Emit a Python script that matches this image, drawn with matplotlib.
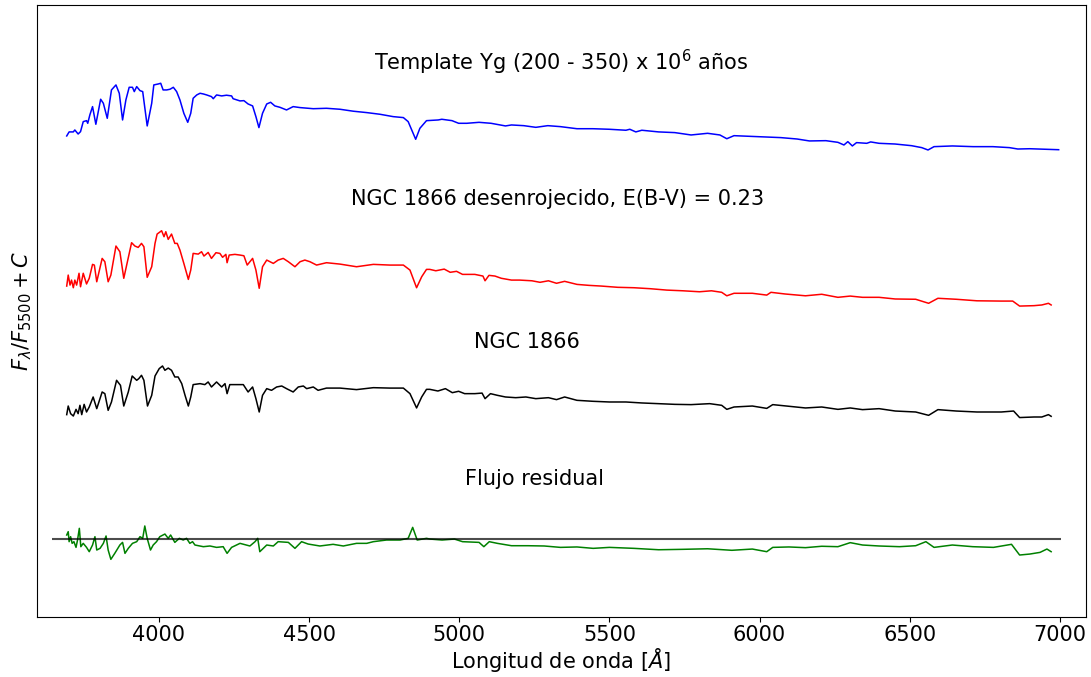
"""
plot.py - espectro integrado de NGC 1866 comparado con el template Yg

Dibuja el template, el espectro desenrojecido, el observado y el flujo
residual, desplazados verticalmente por una constante C.
"""

import numpy as np
import matplotlib.pyplot as plt

plt.rcParams['font.family'] = ['DejaVu Sans']
plt.rcParams['mathtext.fontset'] = 'dejavusans'

# ---- template Yg (200 - 350) Myr ----
wl_template = [
    3693, 3701, 3715, 3720, 3731, 3739, 3748, 3759, 3763, 3770, 3779, 3790,
    3806, 3815, 3828, 3842, 3857, 3868, 3879, 3890, 3901, 3912, 3918, 3926,
    3937, 3946, 3961, 3976, 3983, 3998, 4006, 4014, 4026, 4037, 4048, 4059,
    4070, 4083, 4096, 4106, 4114, 4126, 4137, 4148, 4159, 4175, 4181, 4192,
    4209, 4225, 4242, 4247, 4270, 4283, 4297, 4312, 4323, 4333, 4345, 4359,
    4372, 4386, 4403, 4425, 4447, 4470, 4514, 4558, 4603, 4647, 4692, 4736,
    4780, 4814, 4830, 4842, 4855, 4869, 4891, 4930, 4942, 4976, 4998, 5025,
    5066, 5106, 5154, 5174, 5215, 5255, 5295, 5337, 5392, 5445, 5500, 5555,
    5568, 5588, 5608, 5664, 5718, 5772, 5827, 5868, 5891, 5915, 5990, 6071,
    6125, 6166, 6221, 6261, 6281, 6294, 6309, 6323, 6357, 6370, 6398, 6451,
    6506, 6540, 6561, 6581, 6642, 6711, 6777, 6832, 6860, 6900, 6954, 6996,
]
flux_template = [
    0.957, 0.986, 0.986, 1.000, 0.971, 0.988, 1.060, 1.067, 1.048, 1.108, 1.168, 1.041,
    1.221, 1.192, 1.084, 1.288, 1.324, 1.264, 1.072, 1.216, 1.307, 1.307, 1.276, 1.312,
    1.283, 1.276, 1.029, 1.192, 1.324, 1.331, 1.336, 1.288, 1.288, 1.293, 1.307, 1.276,
    1.216, 1.120, 1.055, 1.120, 1.228, 1.252, 1.264, 1.259, 1.252, 1.240, 1.225, 1.252,
    1.245, 1.250, 1.245, 1.225, 1.209, 1.211, 1.187, 1.173, 1.096, 1.017, 1.120, 1.187,
    1.199, 1.173, 1.163, 1.144, 1.168, 1.161, 1.153, 1.156, 1.149, 1.135, 1.125, 1.113,
    1.096, 1.089, 1.060, 1.000, 0.933, 1.012, 1.067, 1.072, 1.077, 1.067, 1.048, 1.048,
    1.055, 1.048, 1.029, 1.036, 1.031, 1.019, 1.031, 1.024, 1.009, 1.009, 1.005, 0.998,
    1.005, 0.986, 0.998, 0.986, 0.981, 0.964, 0.976, 0.964, 0.937, 0.959, 0.952, 0.945,
    0.935, 0.921, 0.923, 0.911, 0.892, 0.916, 0.885, 0.909, 0.904, 0.914, 0.904, 0.899,
    0.887, 0.873, 0.856, 0.880, 0.885, 0.880, 0.880, 0.873, 0.863, 0.865, 0.861, 0.858,
]

# ---- NGC 1866 desenrojecido, E(B-V) = 0.23 ----
wl_dered = [
    3693, 3698, 3704, 3709, 3715, 3720, 3726, 3734, 3739, 3748, 3759, 3768,
    3779, 3785, 3793, 3811, 3820, 3831, 3840, 3857, 3870, 3883, 3894, 3909,
    3920, 3931, 3942, 3950, 3961, 3976, 3987, 3994, 4009, 4017, 4023, 4031,
    4042, 4053, 4061, 4070, 4083, 4098, 4106, 4114, 4131, 4142, 4150, 4164,
    4175, 4190, 4203, 4212, 4223, 4227, 4234, 4253, 4270, 4283, 4294, 4312,
    4323, 4334, 4345, 4359, 4370, 4381, 4397, 4414, 4431, 4453, 4470, 4486,
    4503, 4525, 4558, 4603, 4658, 4714, 4769, 4814, 4836, 4858, 4875, 4891,
    4902, 4922, 4950, 4970, 4991, 5011, 5052, 5079, 5086, 5099, 5119, 5140,
    5174, 5201, 5242, 5269, 5297, 5324, 5351, 5392, 5432, 5473, 5528, 5582,
    5636, 5691, 5745, 5800, 5840, 5874, 5891, 5915, 5976, 6024, 6038, 6085,
    6153, 6207, 6261, 6302, 6343, 6398, 6452, 6520, 6563, 6594, 6655, 6724,
    6805, 6843, 6866, 6914, 6940, 6962, 6971,
]
flux_dered = [
    1.007, 1.086, 1.014, 1.050, 0.995, 1.050, 1.014, 1.099, 1.002, 1.099, 1.022, 1.063,
    1.163, 1.158, 1.038, 1.206, 1.182, 1.038, 1.086, 1.295, 1.254, 1.063, 1.170, 1.319,
    1.295, 1.285, 1.314, 1.290, 1.070, 1.146, 1.314, 1.381, 1.405, 1.362, 1.398, 1.343,
    1.381, 1.314, 1.314, 1.266, 1.170, 1.055, 1.122, 1.242, 1.237, 1.254, 1.223, 1.249,
    1.206, 1.247, 1.242, 1.214, 1.235, 1.175, 1.230, 1.235, 1.230, 1.225, 1.158, 1.206,
    1.122, 0.991, 1.146, 1.194, 1.182, 1.170, 1.194, 1.206, 1.182, 1.146, 1.182, 1.194,
    1.182, 1.158, 1.175, 1.165, 1.146, 1.163, 1.158, 1.158, 1.122, 0.995, 1.074, 1.127,
    1.127, 1.117, 1.129, 1.106, 1.113, 1.091, 1.091, 1.079, 1.045, 1.084, 1.079, 1.063,
    1.050, 1.050, 1.045, 1.034, 1.045, 1.027, 1.041, 1.019, 1.012, 1.007, 0.998, 0.995,
    0.988, 0.978, 0.973, 0.966, 0.973, 0.962, 0.937, 0.955, 0.955, 0.942, 0.962, 0.950,
    0.937, 0.948, 0.926, 0.935, 0.926, 0.926, 0.914, 0.912, 0.883, 0.919, 0.912, 0.901,
    0.899, 0.899, 0.863, 0.866, 0.871, 0.883, 0.871,
]

# ---- NGC 1866 observado ----
wl_obs = [
    3693, 3698, 3706, 3715, 3724, 3731, 3737, 3743, 3751, 3759, 3768, 3781,
    3793, 3811, 3820, 3831, 3842, 3859, 3872, 3883, 3898, 3911, 3926, 3933,
    3942, 3950, 3962, 3976, 3987, 4001, 4012, 4020, 4031, 4042, 4053, 4064,
    4076, 4087, 4098, 4106, 4114, 4137, 4153, 4164, 4175, 4192, 4209, 4220,
    4227, 4236, 4259, 4281, 4297, 4312, 4323, 4334, 4345, 4359, 4375, 4392,
    4409, 4425, 4447, 4464, 4481, 4492, 4514, 4530, 4558, 4603, 4658, 4714,
    4769, 4814, 4836, 4858, 4875, 4891, 4902, 4929, 4954, 4977, 4998, 5018,
    5052, 5076, 5086, 5104, 5127, 5154, 5188, 5222, 5255, 5297, 5324, 5351,
    5392, 5445, 5500, 5555, 5608, 5664, 5718, 5772, 5834, 5874, 5891, 5915,
    5976, 6024, 6044, 6098, 6153, 6207, 6261, 6302, 6343, 6398, 6452, 6520,
    6563, 6594, 6655, 6724, 6805, 6846, 6866, 6914, 6940, 6962, 6971,
]
flux_obs = [
    0.897, 0.959, 0.904, 0.887, 0.935, 0.904, 0.964, 0.897, 0.971, 0.916, 0.952, 1.024,
    0.940, 1.060, 1.048, 0.928, 0.988, 1.144, 1.108, 0.959, 1.060, 1.175, 1.144, 1.156,
    1.180, 1.144, 0.959, 1.036, 1.175, 1.228, 1.247, 1.216, 1.232, 1.216, 1.168, 1.168,
    1.120, 1.036, 0.959, 1.024, 1.113, 1.120, 1.113, 1.132, 1.096, 1.132, 1.096, 1.120,
    1.048, 1.113, 1.113, 1.113, 1.060, 1.096, 1.012, 0.916, 1.036, 1.084, 1.072, 1.096,
    1.103, 1.084, 1.060, 1.096, 1.103, 1.084, 1.096, 1.072, 1.088, 1.088, 1.077, 1.091,
    1.088, 1.088, 1.048, 0.945, 1.024, 1.079, 1.079, 1.067, 1.084, 1.055, 1.065, 1.048,
    1.048, 1.052, 1.012, 1.048, 1.036, 1.024, 1.019, 1.024, 1.012, 1.019, 1.005, 1.024,
    1.000, 0.993, 0.988, 0.988, 0.981, 0.976, 0.971, 0.969, 0.976, 0.964, 0.935, 0.952,
    0.959, 0.942, 0.969, 0.957, 0.945, 0.952, 0.935, 0.945, 0.933, 0.940, 0.923, 0.916,
    0.892, 0.933, 0.923, 0.916, 0.916, 0.923, 0.876, 0.880, 0.880, 0.897, 0.885,
]

# ---- flujo residual (observado - modelo) ----
wl_resid = [
    3693, 3698, 3701, 3706, 3711, 3717, 3724, 3729, 3735, 3740, 3748, 3759,
    3768, 3779, 3787, 3793, 3804, 3815, 3824, 3831, 3840, 3853, 3870, 3879,
    3887, 3898, 3912, 3926, 3937, 3946, 3953, 3961, 3972, 3981, 3992, 4003,
    4020, 4031, 4039, 4053, 4068, 4081, 4092, 4103, 4112, 4120, 4148, 4170,
    4192, 4214, 4227, 4242, 4270, 4303, 4320, 4329, 4336, 4359, 4381, 4397,
    4431, 4453, 4475, 4497, 4536, 4580, 4614, 4658, 4692, 4714, 4758, 4803,
    4830, 4845, 4860, 4891, 4902, 4943, 4984, 5011, 5066, 5082, 5100, 5127,
    5174, 5229, 5283, 5337, 5392, 5446, 5500, 5582, 5664, 5745, 5827, 5908,
    5976, 6024, 6044, 6098, 6153, 6207, 6261, 6302, 6343, 6398, 6466, 6520,
    6554, 6581, 6642, 6710, 6779, 6839, 6866, 6900, 6934, 6957, 6971,
]
flux_resid = [
    0.031, 0.055, -0.017, 0.019, -0.029, -0.017, -0.058, -0.005, 0.079, -0.053, -0.029, -0.058,
    -0.089, -0.041, 0.019, -0.077, -0.065, -0.029, 0.024, -0.077, -0.144, -0.101, -0.041, -0.022,
    -0.101, -0.065, -0.029, -0.017, 0.019, 0.007, 0.096, 0.007, -0.077, -0.041, -0.017, 0.019,
    0.038, 0.007, 0.031, -0.022, 0.007, -0.005, 0.007, -0.029, -0.017, -0.041, -0.053, -0.048,
    -0.058, -0.053, -0.101, -0.058, -0.029, -0.048, -0.017, 0.007, -0.089, -0.041, -0.048, -0.017,
    -0.022, -0.065, -0.017, -0.034, -0.048, -0.036, -0.048, -0.029, -0.029, -0.017, -0.005, -0.005,
    0.007, 0.086, -0.005, 0.007, 0.002, -0.005, 0.002, -0.017, -0.022, -0.053, -0.017, -0.029,
    -0.046, -0.046, -0.048, -0.058, -0.055, -0.065, -0.058, -0.065, -0.075, -0.072, -0.068, -0.079,
    -0.070, -0.089, -0.058, -0.055, -0.060, -0.050, -0.053, -0.024, -0.041, -0.048, -0.053, -0.046,
    -0.017, -0.058, -0.041, -0.053, -0.058, -0.036, -0.113, -0.106, -0.094, -0.070, -0.089,
]

# constantes de desplazamiento vertical
C_template = 1.945
C_dered = 0.815
C_obs = 0.0
C_resid = 0.0


def main():
    fig = plt.figure(figsize=(10.91, 6.77), dpi=100)
    ax = fig.add_axes([0.0339, 0.0886, 0.9615, 0.904])

    ax.plot(wl_template, np.array(flux_template) + C_template, color='blue', lw=1.1)
    ax.plot(wl_dered, np.array(flux_dered) + C_dered, color='red', lw=1.1)
    ax.plot(wl_obs, np.array(flux_obs) + C_obs, color='black', lw=1.1)
    ax.plot(wl_resid, np.array(flux_resid) + C_resid, color='green', lw=1.1)
    ax.hlines(C_resid, 3645, 7005, color='black', alpha=0.7, lw=1.5)

    fs = 15
    ax.text(5339, 3.434, r'Template Yg (200 - 350) x 10$^6$ años', ha='center', va='center', fontsize=fs)
    ax.text(5329, 2.448, 'NGC 1866 desenrojecido, E(B-V) = 0.23', ha='center', va='center', fontsize=fs)
    ax.text(5225, 1.419, 'NGC 1866', ha='center', va='center', fontsize=fs)
    ax.text(5249, 0.434, 'Flujo residual', ha='center', va='center', fontsize=fs)

    ax.set_xlim(3594, 7087)
    ax.set_ylim(-0.559, 3.844)
    ax.set_xticks([4000, 4500, 5000, 5500, 6000, 6500, 7000])
    ax.set_yticks([])
    ax.tick_params(axis='x', labelsize=fs, pad=2)
    ax.set_xlabel(r'Longitud de onda [$\AA$]', fontsize=fs, labelpad=1)
    ax.set_ylabel(r'$F_\lambda/F_{5500} + C$', fontsize=fs, labelpad=2)

    fig.savefig('out.png', dpi=100)


if __name__ == '__main__':
    main()
